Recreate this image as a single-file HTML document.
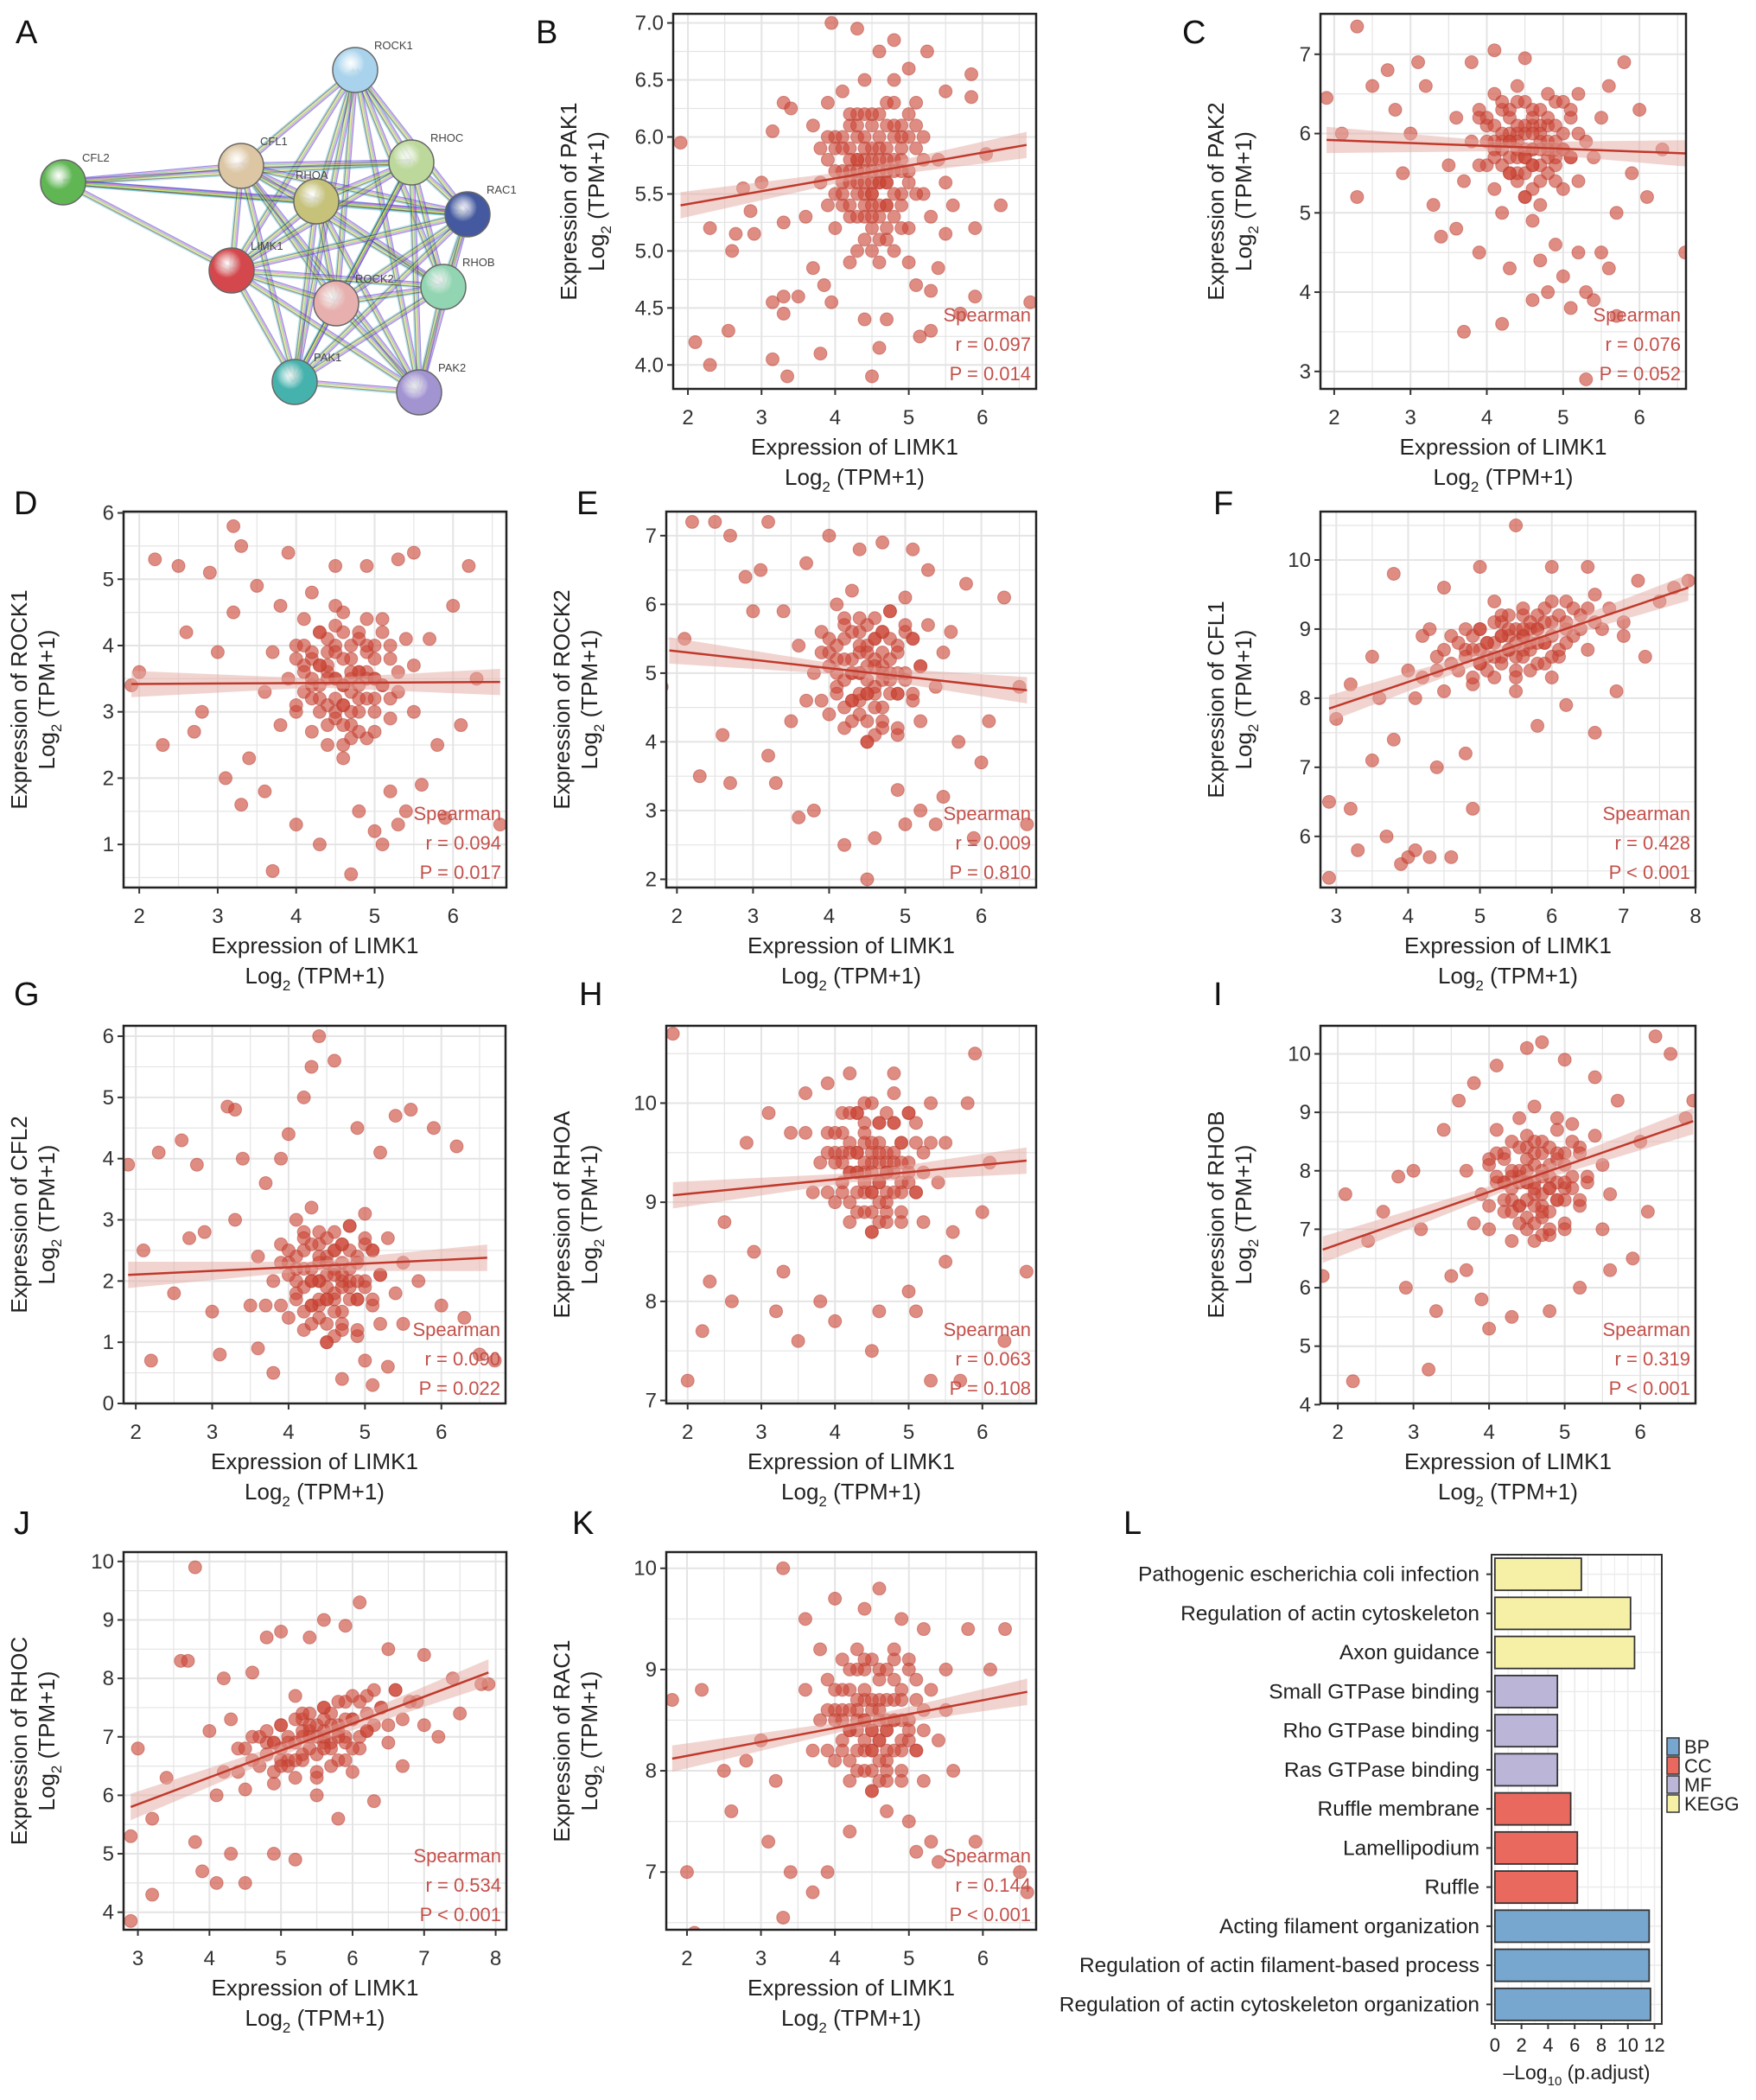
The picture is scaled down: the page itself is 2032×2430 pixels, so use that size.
<!DOCTYPE html>
<html><head><meta charset="utf-8">
<style>
html,body{margin:0;padding:0;background:#fff;}
svg{display:block;font-family:"Liberation Sans",Arial,sans-serif;}
</style></head>
<body>
<svg id="fig" width="2032" height="2430" viewBox="0 0 2032 2430" xmlns="http://www.w3.org/2000/svg"></svg>
<script>
// ---------- DATA ----------
const netNodes = ["ROCK1","CFL2","CFL1","RHOA","RHOC","RAC1","LIMK1","ROCK2","RHOB","PAK1","PAK2"];
const barCategories = ["Pathogenic escherichia coli infection","Regulation of actin cytoskeleton","Axon guidance","Small GTPase binding","Rho GTPase binding","Ras GTPase binding","Ruffle membrane","Lamellipodium","Ruffle","Acting filament organization","Regulation of actin filament-based process","Regulation of actin cytoskeleton organization"];
const barValues = [6.5,10.2,10.5,4.7,4.7,4.7,5.7,6.2,6.2,11.6,11.6,11.7];
const barGroups = ["KEGG","KEGG","KEGG","MF","MF","MF","CC","CC","CC","BP","BP","BP"];
const barTicks = [0,2,4,6,8,10,12];
const legendLabels = ["BP","CC","MF","KEGG"];

const genes = ["PAK1","PAK2","ROCK1","ROCK2","CFL1","CFL2","RHOA","RHOB","RHOC","RAC1"];
const rValues = ["0.097","0.076","0.094","0.009","0.428","0.090","0.063","0.319","0.534","0.144"];
const pValues = ["P = 0.014","P = 0.052","P = 0.017","P = 0.810","P < 0.001","P = 0.022","P = 0.108","P < 0.001","P < 0.001","P < 0.001"];
const xTicksB=[2,3,4,5,6], yTicksB=[4.0,4.5,5.0,5.5,6.0,6.5,7.0];
const xTicksF=[3,4,5,6,7,8], yTicksF=[6,7,8,9,10];
const yTicksC=[3,4,5,6,7], yTicksD=[1,2,3,4,5,6], yTicksE=[2,3,4,5,6,7];
const yTicksG=[0,1,2,3,4,5,6], yTicksH=[7,8,9,10], yTicksI=[4,5,6,7,8,9,10], yTicksJ=[4,5,6,7,8,9,10], yTicksK=[7,8,9,10];
const lineB=[1.9,5.4,6.6,5.93], lineC=[1.9,5.92,6.6,5.75], lineD=[1.9,3.42,6.6,3.45], lineE=[1.9,5.33,6.6,4.75], lineF=[2.9,7.85,7.9,9.6];
const lineG=[1.9,2.1,6.6,2.38], lineH=[1.8,9.07,6.6,9.42], lineI=[1.8,6.65,6.7,8.85], lineJ=[2.9,5.8,7.9,8.1], lineK=[1.8,8.12,6.6,8.78];

const ptsB=[1.9,5.95,2.1,4.2,2.3,4.0,2.3,5.2,2.55,4.3,2.6,5.0,2.65,5.15,2.75,5.55,2.85,5.35,2.9,5.15,3.0,5.6,3.15,6.05,3.15,4.05,3.15,4.55,3.3,4.45,3.3,4.6,3.3,5.25,3.35,3.9,3.3,6.3,3.4,6.25,3.5,4.6,3.7,4.85,3.8,4.1,3.85,4.7,3.95,4.55,3.95,7.0,4.3,6.95,4.4,4.4,4.5,3.9,4.6,4.15,4.7,4.4,4.8,6.85,5.15,4.25,5.3,4.3,5.25,6.75,5.1,4.7,5.3,4.65,5.4,4.85,5.5,5.15,5.6,5.4,5.7,4.45,5.9,4.6,5.9,5.2,5.85,6.55,5.85,6.35,6.05,5.85,6.25,5.4,6.65,4.55,5.5,6.4,5.0,6.6,4.6,6.75,
3.9,5.8,4.0,5.5,4.1,6.0,4.2,5.3,4.2,5.9,4.3,5.6,4.3,6.2,4.4,5.1,4.4,5.8,4.5,5.5,4.5,6.1,4.6,5.3,4.6,5.9,4.7,5.6,4.7,6.3,4.8,5.0,4.8,5.8,4.9,5.4,4.9,6.1,5.0,5.7,5.0,5.2,5.1,5.9,5.1,6.3,5.2,5.5,4.0,5.2,4.1,6.4,3.8,5.6,3.7,6.1,3.6,5.3,4.2,4.9,4.4,6.5,4.6,4.9,4.8,6.5,5.0,4.9,5.2,6.0,5.3,5.3,5.4,5.8,3.9,6.3,4.3,5.0,4.5,5.8,4.6,5.6,4.4,5.4,4.7,5.9,4.2,5.7,4.9,5.8,4.1,5.6,4.8,5.3,4.3,6.0,4.6,6.2,4.5,5.2,5.0,6.0,4.0,5.9,3.8,5.9,5.5,5.6,4.7,5.1,4.4,6.0,4.5,5.7,4.6,5.7,4.4,5.6,4.7,5.4,4.3,5.8,4.9,6.0,4.1,5.4,4.8,6.1,4.2,6.1,4.7,5.7,4.5,5.4];
const coreB=[4.2,5.6,4.3,5.8,4.4,5.7,4.5,5.9,4.6,5.6,4.7,5.8,4.8,5.7,4.9,5.5,4.5,5.6,4.4,5.9,4.3,5.5,4.6,6.0,4.7,5.4,4.8,6.0,4.2,5.8,4.1,5.7,4.9,5.9,5.0,5.6,4.4,5.3,4.6,5.4,4.3,6.1,4.5,6.2,4.7,6.1,4.0,5.7,5.1,5.5,4.2,5.4,4.8,5.5,4.5,5.3,4.9,5.2,4.1,5.9,4.6,5.1,4.3,5.3,4.7,5.2,5.0,6.2,4.4,6.2,4.0,6.0,5.1,6.1,3.9,5.4,4.2,6.2,4.8,6.3,4.5,5.0,4.4,5.5,4.6,5.8,4.7,5.6,4.3,5.7,4.5,5.5,4.9,5.7,4.1,5.5,5.2,5.8,3.9,6.0];
const ptsC=[1.9,6.45,2.1,6.0,2.3,7.35,2.3,5.2,2.5,6.6,2.7,6.8,2.8,6.3,2.9,5.5,3.0,6.0,3.1,6.9,3.2,6.6,3.3,5.1,3.4,4.7,3.5,5.6,3.6,4.8,3.7,3.5,3.8,6.9,3.9,4.5,4.1,7.05,4.3,4.3,4.5,6.95,4.6,3.9,4.7,4.4,4.8,4.0,4.9,4.6,5.0,4.2,5.1,3.8,5.2,4.5,5.3,4.0,5.4,3.9,5.3,2.9,5.5,4.5,5.6,4.3,5.7,5.0,5.8,6.9,5.9,5.5,6.0,6.3,6.1,5.2,6.3,5.8,6.6,4.5,5.7,3.7,4.2,3.6,5.6,6.6,
3.8,5.9,3.9,6.3,4.0,5.6,4.0,6.1,4.1,5.3,4.1,6.5,4.2,5.9,4.3,5.5,4.3,6.2,4.4,5.8,4.4,6.6,4.5,5.2,4.5,6.0,4.6,5.6,4.6,6.3,4.7,5.9,4.7,5.1,4.8,6.1,4.8,5.5,4.9,5.8,4.9,6.4,5.0,5.3,5.0,6.0,5.1,5.7,5.1,6.2,5.2,5.4,5.2,6.5,5.3,5.9,3.7,5.4,3.6,6.2,4.2,5.0,4.6,4.9,5.4,5.7,5.5,6.2,4.4,6.0,4.6,5.8,4.5,5.7,4.3,5.9,4.7,6.1,4.8,5.8,4.2,6.3,4.9,5.6,4.4,5.4,4.6,6.1,4.1,5.8,5.0,5.8];
const coreC=[4.2,5.8,4.3,6.0,4.4,5.9,4.5,6.1,4.6,5.8,4.7,6.0,4.8,5.9,4.9,5.7,4.5,5.8,4.4,6.1,4.3,5.7,4.6,6.2,4.7,5.6,4.8,6.2,4.2,6.0,4.1,5.9,4.9,6.1,5.0,5.8,4.4,5.5,4.6,5.6,4.3,6.3,4.5,6.4,4.7,6.3,4.0,5.9,5.1,5.7,4.2,5.6,4.8,5.7,4.5,5.5,4.9,5.4,4.1,6.1,4.6,5.3,4.3,5.5,4.7,5.4,5.0,6.4,4.4,6.4,4.0,6.2,5.1,6.3,3.9,5.6,4.2,6.4,4.8,6.5,4.5,5.2,4.4,5.7,4.6,6.0,4.7,5.8,4.3,5.9,4.5,5.7,4.9,5.9,4.1,5.7,5.2,6.0,3.9,6.2];
const ptsD=[1.9,3.4,2.0,3.6,2.2,5.3,2.3,2.5,2.5,5.2,2.6,4.2,2.7,2.7,2.8,3.0,2.9,5.1,3.0,3.9,3.1,2.0,3.2,5.8,3.2,4.5,3.3,1.6,3.3,5.5,3.4,2.3,3.5,4.9,3.6,1.8,3.7,0.6,3.8,4.6,3.9,5.4,4.0,1.3,4.2,4.8,4.3,1.0,4.5,5.2,4.7,0.55,4.8,1.5,4.9,5.2,5.0,1.2,5.1,1.0,5.2,1.8,5.3,5.3,5.4,1.5,5.5,5.4,5.6,1.9,5.7,4.1,5.8,2.5,5.9,1.4,6.0,4.6,6.1,2.8,6.2,5.2,6.3,3.5,6.6,1.3,5.3,1.3,
3.9,3.5,4.0,3.0,4.0,4.0,4.1,3.3,4.1,4.4,4.2,2.7,4.2,3.8,4.3,3.2,4.3,4.2,4.4,3.6,4.4,2.5,4.5,3.0,4.5,4.0,4.6,3.4,4.6,4.5,4.7,2.8,4.7,3.8,4.8,3.2,4.8,4.2,4.9,3.6,4.9,2.6,5.0,3.0,5.0,4.0,5.1,3.4,5.1,4.4,5.2,2.9,5.2,3.8,5.3,3.3,5.4,4.1,3.8,2.8,3.7,3.9,3.6,3.3,5.5,3.0,5.5,3.7,4.5,3.5,4.6,3.1,4.4,3.9,4.7,3.5,4.3,3.7,4.8,3.6,4.2,3.4,4.9,3.9,4.6,2.3,4.5,4.6,4.1,3.7,5.0,3.5];
const coreD=[4.3,3.4,4.4,3.7,4.5,3.5,4.6,3.8,4.7,3.3,4.8,3.6,4.9,3.5,5.0,3.2,4.6,3.4,4.5,3.9,4.4,3.1,4.7,4.0,4.8,3.0,4.9,4.0,4.3,3.7,4.2,3.5,5.0,3.8,5.1,3.4,4.5,2.9,4.7,3.0,4.4,4.1,4.6,4.2,4.8,4.1,4.1,3.6,5.2,3.2,4.3,3.0,4.9,3.2,4.6,2.8,5.0,2.7,4.2,3.9,4.7,2.6,4.4,2.8,4.8,2.7,5.1,4.2,4.5,4.3,4.1,4.0,5.2,4.0,4.0,3.1,4.3,4.2,4.9,4.4,4.6,2.5,4.5,3.2,4.7,3.6,4.8,3.4,4.4,3.5,4.6,3.1,5.0,3.5,4.2,3.2,5.3,3.6,4.0,3.8];
const ptsE=[1.8,4.8,2.1,5.5,2.2,7.2,2.3,3.5,2.5,7.2,2.6,4.1,2.7,3.4,2.7,7.0,2.9,6.4,3.0,5.9,3.1,6.5,3.2,3.8,3.2,7.2,3.3,3.4,3.4,5.9,3.5,4.3,3.6,2.9,3.7,6.6,3.8,3.0,4.0,7.0,4.2,2.5,4.4,6.8,4.5,2.0,4.6,2.6,4.7,6.9,4.9,3.3,5.0,2.8,5.2,3.0,5.3,6.5,5.4,2.8,5.5,3.2,5.6,5.6,5.7,4.0,5.8,6.3,5.9,2.6,6.0,3.7,6.1,4.3,6.3,6.1,6.5,4.8,6.6,2.8,5.1,6.8,
3.8,5.0,3.9,5.6,4.0,4.4,4.0,5.3,4.1,6.0,4.1,4.8,4.2,5.5,4.2,4.2,4.3,5.0,4.3,6.2,4.4,4.6,4.4,5.6,4.5,5.1,4.5,4.0,4.6,5.8,4.6,4.7,4.7,5.3,4.7,4.3,4.8,5.9,4.8,4.9,4.9,5.4,4.9,4.1,5.0,5.0,5.0,6.1,5.1,4.6,5.1,5.5,5.2,5.1,5.2,4.3,5.3,5.7,3.7,4.6,3.6,5.4,5.4,4.8,5.5,5.3,4.5,5.4,4.6,5.2,4.4,5.0,4.7,5.0,4.3,4.6,4.8,5.2,4.2,5.8,4.9,4.7,4.5,4.7,4.6,5.5,4.4,5.3,4.7,5.6,4.1,5.2,5.0,5.6];
const coreE=[4.2,4.9,4.3,5.2,4.4,5.0,4.5,5.3,4.6,4.8,4.7,5.1,4.8,5.0,4.9,4.7,4.5,4.9,4.4,5.4,4.3,4.6,4.6,5.5,4.7,4.5,4.8,5.5,4.2,5.2,4.1,5.0,4.9,5.3,5.0,4.9,4.4,4.4,4.6,4.5,4.3,5.6,4.5,5.7,4.7,5.6,4.0,5.1,5.1,4.7,4.2,4.5,4.8,4.7,4.5,4.3,4.9,4.2,4.1,5.4,4.6,4.1,4.3,4.3,4.7,4.2,5.0,5.7,4.4,5.8,4.0,5.5,5.1,5.5,3.9,4.6,4.2,5.7,4.8,5.9,4.5,4.0,4.4,4.7,4.6,5.1,4.7,4.9,4.3,5.0,4.5,4.7,4.9,5.0,4.1,4.7,5.2,5.1,3.9,5.3];
const ptsF=[2.9,5.4,2.9,6.5,3.0,7.7,3.2,6.4,3.2,8.2,3.3,5.8,3.5,7.1,3.5,8.6,3.7,6.0,3.8,7.4,3.8,9.8,3.9,5.6,4.0,5.7,4.1,5.8,4.2,8.9,4.3,5.7,4.4,7.0,4.5,9.6,4.6,5.7,4.8,7.2,4.9,6.4,5.0,9.9,5.5,10.5,5.8,7.6,6.2,7.9,6.5,9.9,6.6,7.5,7.0,9.1,7.2,9.7,7.5,9.4,7.7,9.6,7.9,9.7,6.9,8.1,7.3,8.6,3.6,8.0,4.0,8.4,6.0,9.9,
4.2,8.3,4.4,8.6,4.5,8.1,4.6,8.9,4.7,8.4,4.8,8.7,4.9,8.2,5.0,9.0,5.0,8.5,5.1,8.8,5.2,8.3,5.3,9.1,5.3,8.6,5.4,8.9,5.5,8.4,5.6,9.2,5.6,8.7,5.7,9.0,5.8,8.5,5.9,9.3,5.9,8.8,6.0,9.1,6.1,8.6,6.2,9.4,6.3,8.9,6.4,9.2,6.5,8.7,6.6,9.5,6.7,9.0,6.8,9.3,7.0,8.9,4.3,9.0,4.1,8.0,5.2,9.4,5.5,8.1,6.0,8.3,5.4,8.7,5.7,8.8,5.1,8.6,5.8,9.0,5.3,8.9,5.6,8.9,4.9,8.9,6.2,9.0];
const coreF=[4.6,8.5,4.8,8.6,5.0,8.7,5.2,8.8,5.4,8.7,5.6,8.9,5.8,9.0,6.0,8.9,6.2,9.1,6.4,9.0,5.1,8.4,5.3,8.5,5.5,8.6,5.7,8.7,5.9,8.8,6.1,8.7,5.0,9.0,5.2,9.1,5.4,9.2,5.6,9.3,5.8,9.2,6.0,9.4,4.7,8.8,4.9,8.3,5.3,8.9,5.5,9.0,5.7,9.1,5.9,8.5,6.3,9.3,6.5,9.3,4.5,8.7,4.4,8.4,5.1,8.8,5.5,8.3,5.7,8.4,6.1,9.2,6.6,9.1,4.8,9.0,5.6,8.6,5.9,9.1,5.2,8.6,5.4,9.0,5.8,8.8,6.2,8.8,5.0,8.5,5.3,9.2,5.6,9.0,4.9,8.7,6.0,8.6,5.5,8.8];
const ptsG=[1.9,3.9,2.1,2.5,2.2,0.7,2.3,4.1,2.5,1.8,2.6,4.3,2.7,2.7,2.8,3.9,2.9,2.8,3.0,1.5,3.1,0.8,3.2,4.85,3.3,4.8,3.3,3.0,3.4,4.0,3.5,1.6,3.6,0.9,3.7,3.6,3.8,0.5,3.9,4.0,4.0,4.4,4.2,5.0,4.3,5.5,4.4,6.0,4.6,5.6,4.7,0.4,4.9,4.5,5.0,0.7,5.2,4.1,5.3,0.6,5.4,4.7,5.5,1.3,5.6,4.8,5.7,2.0,5.9,4.5,6.0,1.6,6.2,4.2,6.3,1.4,6.5,0.8,6.7,0.7,5.1,0.3,
3.8,2.0,3.9,2.6,4.0,1.4,4.0,2.3,4.1,3.0,4.1,1.8,4.2,2.5,4.2,1.2,4.3,2.0,4.3,3.2,4.4,1.6,4.4,2.6,4.5,2.1,4.5,1.0,4.6,2.8,4.6,1.7,4.7,2.3,4.7,1.3,4.8,2.9,4.8,1.9,4.9,2.4,4.9,1.1,5.0,2.0,5.0,3.1,5.1,1.6,5.1,2.5,5.2,2.1,5.2,1.3,5.3,2.7,3.7,1.6,3.6,2.4,5.4,1.8,5.5,2.3,4.5,2.4,4.6,2.2,4.4,2.0,4.7,2.0,4.3,1.6,4.8,2.2,4.2,2.8,4.9,1.7,4.5,1.7,4.6,2.5,4.4,2.3,4.7,2.6,4.1,2.2,5.0,2.6];
const coreG=[4.2,1.9,4.3,2.2,4.4,2.0,4.5,2.3,4.6,1.8,4.7,2.1,4.8,2.0,4.9,1.7,4.5,1.9,4.4,2.4,4.3,1.6,4.6,2.5,4.7,1.5,4.8,2.5,4.2,2.2,4.1,2.0,4.9,2.3,5.0,1.9,4.4,1.4,4.6,1.5,4.3,2.6,4.5,2.7,4.7,2.6,4.0,2.1,5.1,1.7,4.2,1.5,4.8,1.7,4.5,1.3,4.9,1.2,4.1,2.4,4.6,1.1,4.3,1.3,4.7,1.2,5.0,2.7,4.4,2.8,4.0,2.5,5.1,2.5,3.9,1.6,4.2,2.7,4.8,2.9,4.5,1.0,4.4,1.7,4.6,2.1,4.7,1.9,4.3,2.0,4.5,1.7,4.9,2.0,4.1,1.7,5.2,2.1,3.9,2.3];
const ptsH=[1.8,10.7,2.0,7.2,2.2,7.7,2.3,8.2,2.5,8.8,2.6,8.0,2.8,9.6,2.9,8.5,3.1,9.9,3.2,7.9,3.3,8.3,3.4,9.7,3.5,7.6,3.6,10.1,3.8,8.0,3.9,10.2,4.0,7.8,4.2,10.3,4.5,7.5,4.6,7.9,4.8,10.3,5.0,8.1,5.1,7.9,5.3,10.0,5.5,8.4,5.6,8.7,5.8,10.0,5.9,10.5,6.0,8.9,6.1,9.4,6.3,7.6,6.6,8.3,5.3,7.2,5.7,7.2,
3.8,9.4,3.9,9.7,4.0,9.0,4.0,9.5,4.1,9.9,4.1,9.2,4.2,9.6,4.2,8.8,4.3,9.3,4.3,9.9,4.4,9.1,4.4,9.6,4.5,9.4,4.5,8.7,4.6,9.8,4.6,9.2,4.7,9.5,4.7,8.9,4.8,9.8,4.8,9.3,4.9,9.6,4.9,8.9,5.0,9.4,5.0,9.9,5.1,9.1,5.1,9.6,5.2,9.3,5.2,8.8,5.3,9.6,3.7,9.1,3.6,9.7,5.4,9.2,5.5,9.6,4.5,9.5,4.6,9.4,4.4,9.3,4.7,9.3,4.3,9.5,4.8,9.5,4.2,9.3,4.9,9.2,4.5,9.1,4.6,9.6,4.4,9.8,4.7,9.1,4.1,9.5,5.0,9.2];
const coreH=[4.2,9.3,4.3,9.5,4.4,9.4,4.5,9.6,4.6,9.2,4.7,9.4,4.8,9.4,4.9,9.1,4.5,9.3,4.4,9.7,4.3,9.1,4.6,9.8,4.7,9.0,4.8,9.8,4.2,9.5,4.1,9.4,4.9,9.6,5.0,9.3,4.4,8.9,4.6,9.0,4.3,9.9,4.5,10.0,4.7,9.9,4.0,9.4,5.1,9.1,4.2,9.0,4.8,9.1,4.5,8.9,4.9,8.8,4.1,9.7,4.6,8.8,4.3,8.9,4.7,8.8,5.0,9.9,4.4,10.0,4.0,9.7,5.1,9.8,3.9,9.1,4.2,9.9,4.8,10.1,4.5,8.7,4.4,9.2,4.6,9.5,4.7,9.3,4.3,9.3,4.5,9.1,4.9,9.4,4.1,9.1,5.2,9.5,3.9,9.5];
const ptsI=[1.8,6.2,2.1,7.6,2.2,4.4,2.4,6.8,2.6,7.3,2.8,7.9,2.9,6.0,3.0,8.0,3.1,7.0,3.2,4.6,3.3,5.6,3.4,8.7,3.5,6.2,3.6,9.2,3.7,6.3,3.8,9.5,3.9,5.8,4.0,5.3,4.1,9.8,4.3,5.5,4.5,10.1,4.7,10.2,4.8,5.6,5.0,9.9,5.2,6.0,5.4,9.6,5.6,6.3,5.7,9.2,5.9,6.5,6.0,8.5,6.2,10.3,6.4,10.0,6.6,8.9,6.7,9.2,5.5,7.0,6.1,7.3,
3.9,7.6,4.0,8.2,4.0,7.0,4.1,7.8,4.1,8.7,4.2,7.3,4.2,8.3,4.3,6.8,4.3,7.9,4.4,8.9,4.4,7.4,4.5,8.4,4.5,7.0,4.6,7.8,4.6,9.1,4.7,7.4,4.7,8.5,4.8,6.9,4.8,8.1,4.9,8.9,4.9,7.5,5.0,8.3,5.0,7.1,5.1,7.9,5.1,8.8,5.2,7.4,5.2,8.4,5.3,7.8,5.4,8.6,3.8,7.1,3.7,8.0,5.5,8.1,5.6,7.6,4.6,7.6,4.5,7.8,4.7,8.0,4.4,7.9,4.8,7.7,4.3,7.5,4.9,8.2,4.5,8.0,4.6,8.3,4.7,7.2,4.2,7.8,5.0,7.7];
const coreI=[4.3,7.7,4.4,8.0,4.5,7.8,4.6,8.1,4.7,7.6,4.8,7.9,4.9,7.8,5.0,7.5,4.6,7.7,4.5,8.2,4.4,7.4,4.7,8.3,4.8,7.3,4.9,8.3,4.3,8.0,4.2,7.8,5.0,8.1,5.1,7.7,4.5,7.2,4.7,7.3,4.4,8.4,4.6,8.5,4.8,8.4,4.1,7.9,5.2,7.5,4.3,7.3,4.9,7.5,4.6,7.1,5.0,7.0,4.2,8.2,4.7,6.9,4.4,7.1,4.8,7.0,5.1,8.5,4.5,8.6,4.1,8.3,5.2,8.3,4.0,7.4,4.3,8.5,4.9,8.7,4.6,6.8,4.5,7.5,4.7,7.9,4.8,7.7,4.4,7.8,4.6,7.4,5.0,7.8,4.2,7.5,5.3,7.9,4.0,8.1];
const ptsJ=[2.9,3.85,2.9,5.3,3.0,6.8,3.2,4.3,3.2,5.6,3.4,6.3,3.6,8.3,3.7,8.3,3.8,9.9,3.8,5.2,3.9,4.7,4.0,7.1,4.1,4.5,4.2,8.0,4.3,5.0,4.5,4.5,4.6,8.1,4.8,8.7,4.9,5.0,5.0,8.8,5.2,4.9,5.4,8.7,5.6,9.0,5.8,5.6,5.9,8.9,6.1,9.3,6.3,5.9,6.5,8.5,6.7,6.5,7.0,8.4,7.2,7.0,7.5,7.4,7.8,7.9,7.9,7.9,7.4,8.0,6.9,7.6,
4.2,6.4,4.4,6.8,4.5,6.1,4.6,7.0,4.7,6.5,4.8,6.9,4.9,6.2,5.0,7.2,5.0,6.6,5.1,7.0,5.2,6.3,5.3,7.3,5.3,6.7,5.4,7.1,5.5,6.4,5.6,7.5,5.6,6.9,5.7,7.2,5.8,6.6,5.9,7.6,5.9,7.0,6.0,7.3,6.1,6.8,6.2,7.7,6.3,7.2,6.4,7.5,6.5,6.9,6.6,7.8,6.7,7.3,6.8,7.6,7.0,7.2,4.3,7.3,4.1,6.0,5.2,7.7,5.5,6.0,6.0,6.4,5.4,6.8,5.7,6.9,5.1,6.6,5.8,7.1,5.3,7.0,5.6,7.0,4.9,6.9,6.2,7.1];
const coreJ=[4.6,6.6,4.8,6.7,5.0,6.8,5.2,6.9,5.4,7.0,5.6,7.1,5.8,7.2,6.0,7.3,6.2,7.4,6.4,7.5,5.1,6.5,5.3,6.6,5.5,6.7,5.7,6.8,5.9,6.9,6.1,7.0,5.0,7.2,5.2,7.3,5.4,7.4,5.6,7.5,5.8,7.6,6.0,7.7,4.7,7.0,4.9,6.4,5.3,7.1,5.5,7.2,5.7,7.4,5.9,6.6,6.3,7.8,6.5,7.2,4.5,6.8,4.4,6.4,5.1,6.9,5.5,6.3,5.7,6.5,6.1,7.6,6.6,7.8,4.8,7.1,5.6,6.8,5.9,7.3,5.2,6.6,5.4,7.2,5.8,7.0,6.2,7.1,5.0,6.5,5.3,7.4,5.6,7.3,4.9,6.9,6.0,6.8,5.5,7.0];
const ptsK=[1.8,8.7,2.0,7.0,2.1,6.4,2.2,8.8,2.5,8.0,2.6,7.6,2.8,8.1,3.0,8.3,3.1,7.3,3.2,7.9,3.3,6.55,3.3,10.0,3.4,7.0,3.6,9.5,3.7,6.8,3.8,9.2,3.9,7.0,4.0,9.7,4.2,7.4,4.4,9.6,4.6,9.8,4.7,7.6,4.9,9.5,5.0,7.5,5.1,7.2,5.2,9.4,5.4,7.1,5.5,9.0,5.6,8.0,5.8,9.4,5.9,7.3,6.1,9.0,6.3,9.4,6.5,7.0,6.6,6.8,5.3,7.3,
3.8,8.5,3.9,8.9,4.0,8.1,4.0,8.6,4.1,9.1,4.1,8.3,4.2,8.8,4.2,7.9,4.3,8.5,4.3,9.2,4.4,8.2,4.4,8.7,4.5,8.4,4.5,7.8,4.6,9.0,4.6,8.3,4.7,8.7,4.7,8.0,4.8,9.1,4.8,8.5,4.9,8.8,4.9,8.0,5.0,8.5,5.0,9.1,5.1,8.2,5.1,8.7,5.2,8.4,5.2,7.9,5.3,8.8,3.7,8.2,3.6,8.8,5.4,8.3,5.5,8.6,4.5,8.6,4.6,8.5,4.4,8.5,4.7,8.4,4.3,8.7,4.8,8.7,4.2,8.4,4.9,8.3,4.5,8.2,4.6,8.7,4.4,9.0,4.7,8.2,4.1,8.6,5.0,8.3];
const coreK=[4.2,8.4,4.3,8.6,4.4,8.5,4.5,8.7,4.6,8.3,4.7,8.5,4.8,8.5,4.9,8.2,4.5,8.4,4.4,8.8,4.3,8.2,4.6,8.9,4.7,8.1,4.8,8.9,4.2,8.6,4.1,8.5,4.9,8.7,5.0,8.4,4.4,8.0,4.6,8.1,4.3,9.0,4.5,9.1,4.7,9.0,4.0,8.5,5.1,8.2,4.2,8.1,4.8,8.2,4.5,8.0,4.9,7.9,4.1,8.8,4.6,7.9,4.3,8.0,4.7,7.9,5.0,9.0,4.4,9.1,4.0,8.8,5.1,8.9,3.9,8.2,4.2,9.0,4.8,9.2,4.5,7.8,4.4,8.3,4.6,8.6,4.7,8.4,4.3,8.4,4.5,8.2,4.9,8.5,4.1,8.2,5.2,8.6,3.9,8.6];

// ---------- HELPERS ----------
const NS="http://www.w3.org/2000/svg";
const svg=document.getElementById('fig');
function mk(tag,attrs,parent){const e=document.createElementNS(NS,tag);for(const k in attrs)e.setAttribute(k,attrs[k]);(parent||svg).appendChild(e);return e;}
function txt(s,attrs,parent){const e=mk('text',attrs,parent);e.textContent=s;return e;}

const letters=[["A",18,50],["B",620,50],["C",1368,50],["D",16,595],["E",667,595],["F",1404,595],["G",16,1163],["H",670,1163],["I",1404,1163],["J",16,1775],["K",662,1775],["L",1300,1775]];
letters.forEach(l=>{const t=txt(l[0],{x:l[1],y:l[2],'font-size':38,fill:'#111'});

});

// ---------- NETWORK (A) ----------
const nodePos={ROCK1:[411,81],CFL2:[73,211],CFL1:[279,192],RHOA:[366,233],RHOC:[476,188],RAC1:[541,248],LIMK1:[268,313],ROCK2:[389,351],RHOB:[513,332],PAK1:[341,442],PAK2:[485,454]};
const nodeCol={ROCK1:"#a9d3ec",CFL2:"#5fb653",CFL1:"#dcc6a3",RHOA:"#c6c27a",RHOC:"#bcd89a",RAC1:"#44599f",LIMK1:"#d4484d",ROCK2:"#e7b0ae",RHOB:"#92d5b2",PAK1:"#46b2ad",PAK2:"#a293d1"};
const gA=mk('g',{});


const edgeCols=["#3a3ad0","#d05ad0","#5cc05c","#d8d840","#333","#60c8e0"];
for(let i=0;i<netNodes.length;i++)for(let j=i+1;j<netNodes.length;j++){
  const a=netNodes[i],b=netNodes[j];
  if((a==="CFL2"||b==="CFL2")&&!["CFL1","RHOA","LIMK1","RHOC","RAC1"].includes(a==="CFL2"?b:a))continue;
  const [x1,y1]=nodePos[a],[x2,y2]=nodePos[b];const dx=x2-x1,dy=y2-y1,L=Math.hypot(dx,dy),nx=-dy/L,ny=dx/L;
  edgeCols.forEach((c,k)=>{const o=(k-2.5)*1.3;
    const ln=mk('line',{x1:x1+nx*o,y1:y1+ny*o,x2:x2+nx*o,y2:y2+ny*o,stroke:c,'stroke-width':1.2,'stroke-opacity':0.55},gA);
    
    });
}
const defs=mk('defs',{});
netNodes.forEach(n=>{const g=mk('radialGradient',{id:'g'+n,cx:'40%',cy:'35%',r:'70%'},defs);
  mk('stop',{offset:'0%','stop-color':'#fff','stop-opacity':0.8},g);mk('stop',{offset:'45%','stop-color':nodeCol[n]},g);mk('stop',{offset:'100%','stop-color':nodeCol[n]},g);});
netNodes.forEach(n=>{const [x,y]=nodePos[n];
  const c=mk('circle',{cx:x,cy:y,r:26,fill:'url(#g'+n+')',stroke:'#666','stroke-width':1.5},gA);
  
  
  const t=txt(n,{x:x+(n==="RHOA"?-24:22),y:y-(n==="RHOA"?26:24),'font-size':13,fill:'#444'},gA);
  
  });

// ---------- SCATTER PANELS ----------
const panels=[
 {g:0,f:[779,1199,16,450],xd:[1.8,6.73],yd:[3.79,7.08],xt:xTicksB,yt:yTicksB,pts:ptsB.concat(coreB),ln:lineB,dec:1},
 {g:1,f:[1528,1951,16,450],xd:[1.82,6.61],yd:[2.78,7.51],xt:xTicksB,yt:yTicksC,pts:ptsC.concat(coreC),ln:lineC,dec:0},
 {g:2,f:[143,586,592,1027],xd:[1.8,6.68],yd:[0.35,6.02],xt:xTicksB,yt:yTicksD,pts:ptsD.concat(coreD),ln:lineD,dec:0},
 {g:3,f:[771,1199,592,1027],xd:[1.86,6.72],yd:[1.88,7.35],xt:xTicksB,yt:yTicksE,pts:ptsE.concat(coreE),ln:lineE,dec:0},
 {g:4,f:[1528,1962,592,1027],xd:[2.78,8.0],yd:[5.26,10.7],xt:xTicksF,yt:yTicksF,pts:ptsF.concat(coreF),ln:lineF,dec:0},
 {g:5,f:[143,585,1187,1624],xd:[1.84,6.84],yd:[0,6.17],xt:xTicksB,yt:yTicksG,pts:ptsG.concat(coreG),ln:lineG,dec:0},
 {g:6,f:[771,1199,1187,1624],xd:[1.71,6.73],yd:[6.97,10.78],xt:xTicksB,yt:yTicksH,pts:ptsH.concat(coreH),ln:lineH,dec:0},
 {g:7,f:[1528,1962,1187,1624],xd:[1.77,6.73],yd:[4.02,10.48],xt:xTicksB,yt:yTicksI,pts:ptsI.concat(coreI),ln:lineI,dec:0},
 {g:8,f:[143,586,1796,2233],xd:[2.8,8.15],yd:[3.7,10.16],xt:xTicksF,yt:yTicksJ,pts:ptsJ.concat(coreJ),ln:lineJ,dec:0},
 {g:9,f:[771,1199,1796,2233],xd:[1.72,6.72],yd:[6.43,10.16],xt:xTicksB,yt:yTicksK,pts:ptsK.concat(coreK),ln:lineK,dec:0}
];
panels.forEach(P=>{
  const [X0,X1,Y0,Y1]=P.f;const gene=genes[P.g];
  const sx=v=>X0+(v-P.xd[0])/(P.xd[1]-P.xd[0])*(X1-X0);
  const sy=v=>Y1-(v-P.yd[0])/(P.yd[1]-P.yd[0])*(Y1-Y0);
  const g=mk('g',{});
  
  
  mk('rect',{x:X0,y:Y0,width:X1-X0,height:Y1-Y0,fill:'#fff'},g);
  const cp='clip'+P.g;const cl=mk('clipPath',{id:cp},defs);mk('rect',{x:X0,y:Y0,width:X1-X0,height:Y1-Y0},cl);
  const xs=P.xt[1]-P.xt[0], ys=P.yt[1]-P.yt[0];
  for(let v=P.xt[0]-xs;v<=P.xt[P.xt.length-1]+xs;v+=xs/2){const px=sx(v);if(px<X0||px>X1)continue;
    mk('line',{x1:px,x2:px,y1:Y0,y2:Y1,stroke:'#e4e4e4','stroke-width':Math.abs((v-P.xt[0])/xs%1)<1e-6?2:1.2},g);}
  for(let v=P.yt[0]-ys;v<=P.yt[P.yt.length-1]+ys;v+=ys/2){const py=sy(v);if(py<Y0||py>Y1)continue;
    mk('line',{y1:py,y2:py,x1:X0,x2:X1,stroke:'#e4e4e4','stroke-width':Math.abs((v-P.yt[0])/ys%1)<1e-6?2:1.2},g);}
  const gp=mk('g',{'clip-path':'url(#'+cp+')'},g);
  for(let i=0;i<P.pts.length;i+=2){
    const c=mk('circle',{cx:sx(P.pts[i]),cy:sy(P.pts[i+1]),r:7.5,fill:'#cc4535','fill-opacity':0.62,stroke:'#b0362a','stroke-opacity':0.45,'stroke-width':1},gp);
    
    
  }
  const [lx0,ly0,lx1,ly1]=P.ln;const lm=(lx0+lx1)/2, lym=(ly0+ly1)/2;
  const w0=(P.yd[1]-P.yd[0])*0.035, wm=(P.yd[1]-P.yd[0])*0.012;
  const band=mk('polygon',{points:[[lx0,ly0+w0],[lm,lym+wm],[lx1,ly1+w0],[lx1,ly1-w0],[lm,lym-wm],[lx0,ly0-w0]].map(p=>sx(p[0])+','+sy(p[1])).join(' '),fill:'#e3aaa2','fill-opacity':0.5},gp);
  
  
  const rl=mk('line',{x1:sx(lx0),y1:sy(ly0),x2:sx(lx1),y2:sy(ly1),stroke:'#c0392b','stroke-width':2.5},gp);
  
  
  const fr=mk('rect',{x:X0,y:Y0,width:X1-X0,height:Y1-Y0,fill:'none',stroke:'#222','stroke-width':2.5},g);
  
  
  P.xt.forEach(v=>{const px=sx(v);mk('line',{x1:px,x2:px,y1:Y1,y2:Y1+7,stroke:'#333','stroke-width':2},g);
    const t=txt(String(v),{x:px,y:Y1+41,'font-size':24,'text-anchor':'middle',fill:'#333'},g);
    
    });
  P.yt.forEach(v=>{const py=sy(v);mk('line',{x1:X0-7,x2:X0,y1:py,y2:py,stroke:'#333','stroke-width':2},g);
    const t=txt(P.dec?v.toFixed(1):String(v),{x:X0-11,y:py+8,'font-size':24,'text-anchor':'end',fill:'#333'},g);
    
    });
  const xt1=txt('Expression of LIMK1',{x:(X0+X1)/2,y:Y1+76,'font-size':26,'text-anchor':'middle',fill:'#222'},g);
  
  
  const xt2=mk('text',{x:(X0+X1)/2,y:Y1+111,'font-size':26,'text-anchor':'middle',fill:'#222'},g);
  xt2.innerHTML='Log<tspan font-size="17" dy="8">2</tspan><tspan dy="-8"> (TPM+1)</tspan>';
  
  
  const yx1=X0-112, yx2=X0-80, yc=(Y0+Y1)/2;
  const yt1=txt('Expression of '+gene,{x:yx1,y:yc,'font-size':26,'text-anchor':'middle',fill:'#222',transform:`rotate(-90 ${yx1} ${yc})`},g);
  
  
  const yt2=mk('text',{x:yx2,y:yc,'font-size':26,'text-anchor':'middle',fill:'#222',transform:`rotate(-90 ${yx2} ${yc})`},g);
  yt2.innerHTML='Log<tspan font-size="17" dy="8">2</tspan><tspan dy="-8"> (TPM+1)</tspan>';
  
  
  [['Spearman',-80],['r = '+rValues[P.g],-46],[pValues[P.g],-12]].forEach(s=>{
    const t=txt(s[0],{x:X1-6,y:Y1+s[1]+2,'font-size':22,'text-anchor':'end',fill:'#c4504a'},g);
    
    });
});

// ---------- BAR CHART (L) ----------
const LX0=1726,LX1=1923,LY0=1799,LY1=2342, bd=[-0.25,12.55];
const bx=v=>LX0+(v-bd[0])/(bd[1]-bd[0])*(LX1-LX0);
const grpCol={BP:"#77a7cf",CC:"#e9695f",MF:"#bbb5d7",KEGG:"#f6f0a6"};
const gL=mk('g',{});


mk('rect',{x:LX0,y:LY0,width:LX1-LX0,height:LY1-LY0,fill:'#fff'},gL);
for(let v=0;v<=12;v+=1){mk('line',{x1:bx(v),x2:bx(v),y1:LY0,y2:LY1,stroke:'#ebebeb','stroke-width':v%2?1:1.6},gL);}
const step=(LY1-LY0)/barCategories.length;
barCategories.forEach((c,i)=>{const cy=LY0+step*(i+0.5);
  mk('line',{x1:LX0,x2:LX1,y1:cy,y2:cy,stroke:'#ebebeb','stroke-width':1.6},gL);});
barCategories.forEach((c,i)=>{const cy=LY0+step*(i+0.5);
  const r=mk('rect',{x:bx(0),y:cy-step*0.41,width:bx(barValues[i])-bx(0),height:step*0.82,fill:grpCol[barGroups[i]],stroke:'#333','stroke-width':1.8},gL);
  
  
  mk('line',{x1:LX0-6,x2:LX0,y1:cy,y2:cy,stroke:'#333','stroke-width':2},gL);
  const t=txt(c,{x:LX0-14,y:cy+8,'font-size':24.5,'text-anchor':'end',fill:'#222'},gL);
  
  });
const lf=mk('rect',{x:LX0,y:LY0,width:LX1-LX0,height:LY1-LY0,fill:'none',stroke:'#333','stroke-width':2},gL);


barTicks.forEach(v=>{mk('line',{x1:bx(v),x2:bx(v),y1:LY1,y2:LY1+6,stroke:'#333','stroke-width':2},gL);
  const t=txt(String(v),{x:bx(v),y:LY1+32,'font-size':22,'text-anchor':'middle',fill:'#222'},gL);
  
  });
const lt=mk('text',{x:(LX0+LX1)/2,y:LY1+64,'font-size':23,'text-anchor':'middle',fill:'#222'},gL);
lt.innerHTML='–Log<tspan font-size="15" dy="7">10</tspan><tspan dy="-7"> (p.adjust)</tspan>';


legendLabels.forEach((l,i)=>{const y=2011+i*22;
  const r=mk('rect',{x:1929,y:y,width:14,height:20,fill:grpCol[l],stroke:'#333','stroke-width':1.5},gL);
  
  
  const t=txt(l,{x:1949,y:y+18,'font-size':22,fill:'#222'},gL);
  
  });
</script>
</body></html>
